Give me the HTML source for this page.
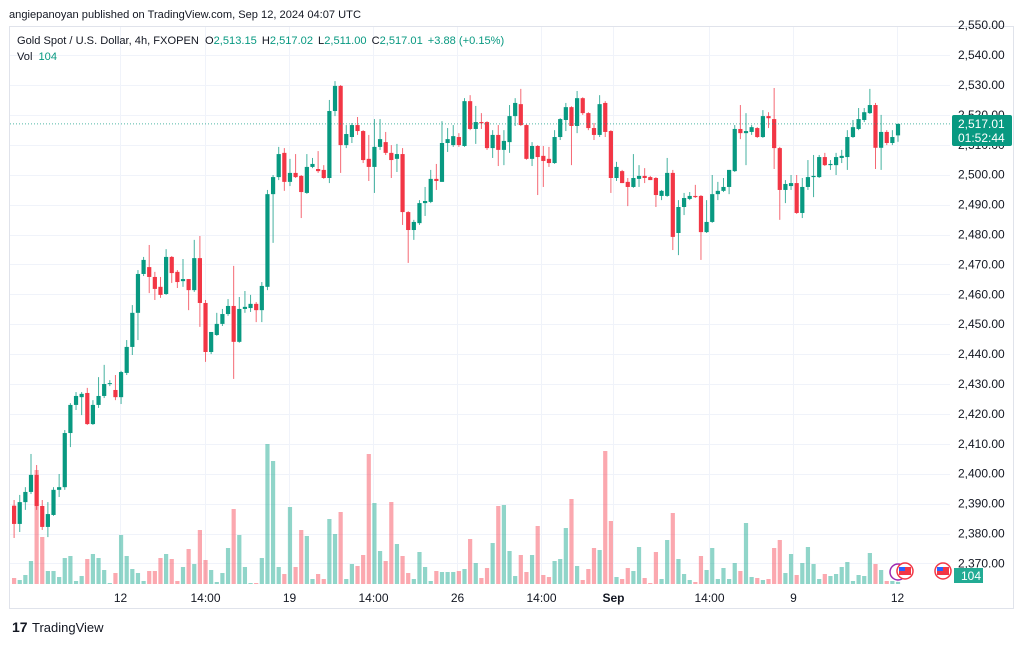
<!DOCTYPE html>
<html><head><meta charset="utf-8"><style>
html,body{margin:0;padding:0;background:#fff;}
body{width:1024px;height:643px;overflow:hidden;font-family:"Liberation Sans",sans-serif;}
svg text{font-family:"Liberation Sans",sans-serif;}
</style></head><body>
<svg id="chart" width="1024" height="643" viewBox="0 0 1024 643" xmlns="http://www.w3.org/2000/svg">
<text x="9" y="18" font-size="11.1" fill="#131722">angiepanoyan published on TradingView.com, Sep 12, 2024 04:07 UTC</text>
<rect x="9.5" y="26.5" width="1004" height="582" fill="none" stroke="#e0e3eb"/>
<g id="grid"></g>
<g id="vol"></g>
<g id="candles"></g>
<line id="lastline" x1="10" x2="950" stroke="#089981" stroke-width="1" stroke-dasharray="1,2" opacity="0.7"/>
<g id="axis"></g>
<g>
<text x="17" y="44" font-size="11.1" fill="#131722">Gold Spot / U.S. Dollar, 4h, FXOPEN <tspan dx="3">O</tspan><tspan fill="#089981">2,513.15</tspan><tspan dx="5">H</tspan><tspan fill="#089981">2,517.02</tspan><tspan dx="5">L</tspan><tspan fill="#089981">2,511.00</tspan><tspan dx="5">C</tspan><tspan fill="#089981">2,517.01</tspan><tspan dx="5" fill="#089981">+3.88 (+0.15%)</tspan></text>
<text x="17" y="60" font-size="11.1" fill="#131722">Vol <tspan dx="3" fill="#089981">104</tspan></text>
</g>
<g>
<circle cx="898" cy="572" r="8" fill="#fff" stroke="#9c27b0" stroke-width="1.5"/>
<circle cx="905" cy="571" r="8" fill="#fff" stroke="#f23645" stroke-width="1.5"/>
<rect x="899" y="567" width="12" height="8" fill="#f23645"/><rect x="899" y="567" width="6" height="4" fill="#2962ff"/>
<circle cx="943" cy="571" r="8" fill="#fff" stroke="#f23645" stroke-width="1.5"/>
<rect x="937" y="567" width="12" height="8" fill="#f23645"/><rect x="937" y="567" width="6" height="4" fill="#2962ff"/>
</g>
<g>
<rect x="952" y="115" width="60" height="31" rx="2" fill="#089981"/>
<text x="958" y="128" font-size="12" fill="#fff">2,517.01</text>
<text x="958" y="142" font-size="12" fill="#fff">01:52:44</text>
</g>
<g>
<rect x="954" y="568" width="29" height="15" fill="#22ab94"/>
<text x="961" y="580" font-size="12" fill="#fff">104</text>
</g>
<g>
<text x="12" y="632" font-size="14" font-weight="bold" fill="#131722">17</text>
<text x="32" y="632" font-size="13" fill="#131722">TradingView</text>
</g>
</svg>
<script>
const opens=[2389.3,2383.2,2390.5,2393.9,2399.6,2389.2,2382.2,2386.2,2394.6,2395.5,2413.6,2423.0,2425.6,2427.0,2416.6,2423.0,2426.0,2430.0,2428.0,2425.6,2433.7,2442.4,2453.8,2466.8,2469.1,2465.8,2462.5,2460.1,2472.5,2467.5,2464.4,2465.1,2461.4,2472.1,2457.1,2440.7,2446.4,2450.1,2453.4,2456.1,2444.1,2455.1,2455.4,2456.8,2454.7,2462.5,2493.5,2499.2,2507.3,2497.6,2500.6,2499.6,2493.9,2502.6,2501.9,2501.6,2498.9,2521.3,2529.7,2509.9,2512.6,2516.6,2514.6,2505.3,2502.6,2509.3,2510.9,2507.3,2505.3,2506.9,2487.5,2481.5,2483.8,2490.5,2490.9,2498.6,2497.6,2510.6,2509.9,2512.6,2509.6,2524.6,2515.3,2517.6,2517.6,2508.9,2513.3,2508.3,2510.9,2519.6,2523.6,2516.6,2505.3,2509.6,2506.3,2505.3,2503.9,2512.6,2518.3,2522.6,2516.3,2525.6,2520.6,2515.6,2513.3,2524.0,2514.6,2498.9,2501.2,2497.6,2495.9,2498.6,2499.6,2499.2,2498.9,2492.9,2492.9,2500.6,2480.5,2489.2,2491.9,2492.9,2492.9,2480.8,2484.2,2493.5,2494.6,2495.9,2501.2,2515.3,2513.9,2514.3,2515.6,2512.6,2519.6,2518.6,2508.9,2494.9,2496.2,2497.2,2487.2,2495.9,2499.2,2499.2,2505.9,2503.2,2503.2,2505.6,2505.9,2512.6,2515.3,2518.3,2520.6,2523.3,2509.0,2514.3,2510.6,2513.15];
const highs=[2391.2,2392.9,2395.5,2406.6,2402.9,2391.2,2390.5,2395.5,2399.9,2414.6,2423.6,2427.3,2427.3,2428.7,2424.6,2432.3,2436.4,2431.3,2433.0,2434.4,2444.7,2456.4,2468.1,2472.5,2476.5,2467.5,2465.8,2475.1,2472.8,2468.1,2471.8,2465.1,2478.2,2479.5,2458.1,2447.4,2453.8,2455.1,2458.4,2469.5,2459.1,2461.1,2459.8,2457.4,2464.1,2494.9,2499.9,2509.3,2508.9,2505.3,2506.9,2499.9,2506.9,2505.6,2507.9,2503.2,2525.0,2531.3,2530.0,2516.6,2517.3,2519.3,2514.9,2513.3,2518.6,2518.6,2514.3,2509.9,2510.3,2508.9,2487.8,2484.9,2491.5,2495.9,2501.6,2503.6,2517.9,2515.6,2516.6,2513.9,2525.6,2526.6,2523.0,2520.6,2517.9,2514.9,2516.6,2514.9,2523.3,2525.6,2528.7,2516.9,2510.9,2509.9,2509.6,2509.3,2514.9,2518.9,2524.0,2522.9,2528.0,2525.9,2520.9,2517.3,2526.6,2524.6,2514.9,2504.3,2501.6,2498.9,2506.9,2503.2,2502.2,2499.6,2499.2,2494.9,2505.6,2501.6,2491.5,2493.9,2494.2,2496.6,2493.2,2491.5,2499.9,2497.6,2498.9,2501.6,2516.6,2523.3,2520.6,2516.6,2515.9,2521.6,2520.9,2529.0,2509.3,2498.2,2499.9,2499.9,2498.9,2504.9,2506.6,2506.6,2507.3,2504.9,2507.3,2508.3,2514.9,2518.3,2522.3,2522.3,2528.7,2524.0,2520.0,2514.9,2514.9,2517.02];
const lows=[2378.5,2380.5,2387.9,2393.2,2387.9,2381.2,2378.8,2385.9,2392.2,2394.6,2408.9,2421.3,2419.6,2416.3,2416.3,2422.0,2425.3,2429.3,2424.6,2423.3,2433.0,2439.7,2444.7,2466.1,2460.4,2458.1,2458.8,2459.8,2463.8,2462.1,2462.5,2454.7,2460.8,2449.1,2437.4,2440.0,2446.1,2449.4,2452.8,2431.7,2443.8,2453.8,2454.1,2450.7,2450.7,2461.4,2477.2,2498.2,2494.6,2496.2,2498.9,2485.5,2493.6,2502.2,2500.6,2498.6,2497.2,2519.6,2500.6,2508.9,2510.6,2513.3,2503.9,2497.9,2493.9,2508.3,2506.6,2498.9,2500.9,2483.2,2470.5,2478.2,2483.2,2486.2,2490.5,2494.9,2497.6,2507.6,2509.3,2509.3,2509.3,2514.9,2510.3,2515.3,2508.3,2505.6,2502.9,2503.2,2507.3,2516.3,2516.3,2505.0,2502.9,2493.2,2495.9,2502.6,2503.6,2511.6,2514.6,2503.2,2513.9,2520.0,2514.9,2511.6,2512.6,2512.6,2493.9,2497.9,2497.2,2489.5,2495.6,2495.9,2497.2,2498.2,2489.2,2491.5,2492.6,2474.8,2473.1,2486.5,2491.5,2492.2,2471.5,2480.5,2483.9,2491.5,2494.2,2493.5,2500.9,2511.9,2503.2,2513.3,2512.3,2512.3,2515.6,2501.9,2484.9,2490.5,2494.9,2486.9,2485.5,2494.9,2492.5,2498.9,2502.9,2501.6,2499.9,2503.9,2501.6,2512.3,2514.9,2517.6,2520.3,2501.9,2501.6,2509.9,2509.9,2511.00];
const closes=[2383.2,2390.5,2393.9,2399.6,2389.2,2382.2,2386.5,2394.6,2395.5,2413.6,2423.0,2426.0,2426.7,2416.6,2423.0,2426.0,2430.0,2430.3,2425.6,2434.0,2442.4,2453.8,2466.8,2471.5,2465.8,2461.8,2459.8,2472.5,2467.1,2464.1,2465.1,2461.4,2472.1,2457.1,2440.7,2447.4,2450.1,2453.4,2456.1,2444.1,2455.1,2455.8,2456.8,2454.7,2462.8,2493.5,2499.2,2506.9,2497.6,2500.6,2499.2,2494.2,2502.6,2503.6,2501.2,2498.9,2521.3,2529.7,2509.9,2513.6,2516.6,2514.6,2504.9,2502.6,2509.3,2511.9,2507.3,2504.9,2506.9,2487.5,2481.5,2484.2,2490.5,2491.2,2498.6,2497.9,2510.6,2511.9,2512.9,2509.9,2524.6,2515.3,2517.6,2517.2,2508.9,2513.3,2508.3,2511.3,2519.6,2524.0,2516.6,2505.3,2509.6,2505.9,2504.6,2503.9,2512.6,2518.6,2522.6,2516.3,2525.6,2520.6,2515.6,2513.3,2523.6,2514.3,2498.9,2502.6,2497.2,2495.9,2498.9,2499.6,2498.9,2498.2,2493.2,2494.6,2500.6,2479.2,2489.2,2492.2,2492.9,2492.5,2480.8,2484.2,2493.5,2494.6,2495.9,2501.6,2515.3,2513.9,2514.6,2515.9,2512.6,2519.6,2518.9,2508.9,2494.9,2496.9,2497.2,2487.2,2495.9,2499.2,2499.6,2505.9,2503.2,2503.6,2505.9,2506.3,2512.6,2515.9,2518.6,2520.9,2523.3,2509.0,2514.3,2510.6,2512.6,2517.01];
const volumes=[300,200,450,1150,5700,2350,650,650,350,1300,1400,150,400,1250,1500,1300,700,50,550,2450,1400,750,550,150,650,650,1300,1500,1250,150,850,1750,1000,2700,1200,700,100,550,1800,3750,2450,850,50,50,1300,7000,6150,850,500,3850,850,2700,2400,250,500,250,3250,2500,3600,250,1000,900,1450,6500,4050,1650,1150,4100,2000,1400,550,250,1600,850,150,650,600,600,600,650,750,2250,1050,300,800,2050,3900,3950,1650,400,1450,600,1450,2900,450,350,1150,1250,2800,4250,900,200,750,1800,1700,6650,3150,350,250,800,650,1850,300,50,1600,250,2200,3550,1250,500,200,100,1400,700,1800,250,800,250,1050,650,3050,350,300,200,250,1800,2200,550,1500,450,1050,1850,1000,250,500,400,500,850,1100,150,450,400,1550,1000,700,150,150,104];
const priceTicks=[2550,2540,2530,2520,2510,2500,2490,2480,2470,2460,2450,2440,2430,2420,2410,2400,2390,2380,2370];
const timeLabels=["12","14:00","19","14:00","26","14:00","Sep","14:00","9","12"];
const timeLabelIdx=[18.9,33.9,48.8,63.7,78.7,93.6,106.4,123.5,138.4,156.8];

const NS="http://www.w3.org/2000/svg";
function yP(p){return 85+(2530-p)*2.99;}
function xI(i){return 14+5.63*i;}
function yV(v){return 584-v/50;}
function mk(tag,attrs,parent){const e=document.createElementNS(NS,tag);for(const k in attrs)e.setAttribute(k,attrs[k]);parent.appendChild(e);return e;}
const grid=document.getElementById('grid'),vol=document.getElementById('vol'),cg=document.getElementById('candles'),ax=document.getElementById('axis');
priceTicks.forEach(p=>{
  const y=Math.round(yP(p))+0.5;
  if(y>27&&y<584){const l=mk('line',{x1:10,x2:950,y1:y,y2:y,stroke:'#f0f3fa'},grid);
  
  }
  if(y>20&&y<590){const t=mk('text',{x:958,y:yP(p)+4,'font-size':12,fill:'#131722'},ax);
  t.textContent=p.toLocaleString('en-US')+'.00';
  
  }
});
timeLabels.forEach((s,k)=>{
  const x=Math.round(xI(timeLabelIdx[k]))+0.5;
  const l=mk('line',{x1:x,x2:x,y1:27,y2:584,stroke:'#f0f3fa'},grid);
  
  
  const t=mk('text',{x:x,y:602,'font-size':12,fill:'#131722','text-anchor':'middle','font-weight':s==='Sep'?'bold':'normal'},ax);
  t.textContent=s;
  
  
});
for(let i=0;i<closes.length;i++){
  const up=closes[i]>=opens[i];
  const col=up?'#089981':'#f23645';
  const x=xI(i);
  const vy=yV(volumes[i]);
  const vb=mk('rect',{x:x-2,y:vy,width:4.2,height:Math.max(584-vy,0.5),fill:up?'rgba(34,171,148,0.5)':'rgba(247,82,95,0.5)'},vol);
  
  
  const w=mk('line',{x1:x+0.1,x2:x+0.1,y1:yP(highs[i]),y2:yP(lows[i]),stroke:col,'stroke-width':1,opacity:0.75},cg);
  
  
  const top=yP(Math.max(opens[i],closes[i])),bot=yP(Math.min(opens[i],closes[i]));
  const b=mk('rect',{x:x-2,y:top,width:4.2,height:Math.max(bot-top,1),fill:col},cg);
  
  
}
const ll=document.getElementById('lastline');
const ly=yP(closes[closes.length-1]);
ll.setAttribute('y1',ly);ll.setAttribute('y2',ly);
</script>
</body></html>
